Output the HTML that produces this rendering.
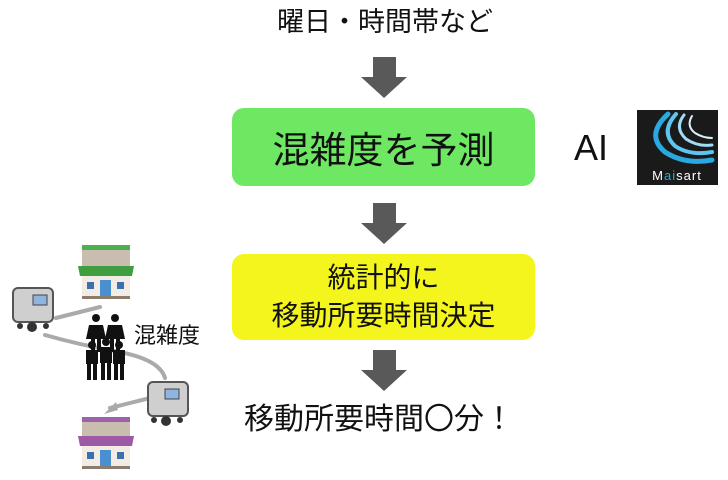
<!DOCTYPE html>
<html><head><meta charset="utf-8"><style>
body{margin:0;width:728px;height:480px;background:#fff;position:relative;overflow:hidden;font-family:"Liberation Sans","Noto Sans CJK JP",sans-serif;color:#111}
.t{position:absolute;white-space:nowrap;text-align:center}
.box{position:absolute;left:232px;width:303px;border-radius:12px;display:flex;align-items:center;justify-content:center;text-align:center}
</style></head><body>
<div class="t" style="left:235px;width:300px;top:4px;font-size:27px;line-height:36px">曜日・時間帯など</div>
<svg width="728" height="480" style="position:absolute;left:0;top:0">
<g fill="#595959">
<polygon points="373,57 396,57 396,77 407,77 384,98 361,77 373,77"/>
<polygon points="373,203 396,203 396,223 407,223 384,244 361,223 373,223"/>
<polygon points="373,350 396,350 396,370 407,370 384,391 361,370 373,370"/>
</g>
<rect x="637" y="110" width="81" height="75" fill="#1a1a1a"/>
<g fill="none" stroke-linecap="round">
<path d="M668 114 Q645 135 665 152 Q685 165 712 160" stroke="#29a9e0" stroke-width="5"/>
<path d="M676 114 Q660 132 675 146 Q690 156 712 152" stroke="#5cc6f0" stroke-width="4"/>
<path d="M684 115 Q674 128 686 139 Q698 147 712 145" stroke="#9fdcf5" stroke-width="3"/>
<path d="M692 116 Q686 126 695 133 Q703 138 712 138" stroke="#d8f1fb" stroke-width="2"/>
</g>
<text x="677" y="180" fill="#fff" font-size="13" text-anchor="middle" font-family="Liberation Sans" letter-spacing="1">M<tspan fill="#29a9e0">ai</tspan>sart</text>
<g fill="none" stroke="#aaa" stroke-width="4" stroke-linecap="round">
<path d="M56 318 L100 307"/>
<path d="M45 335 Q80 345 120 352 Q160 360 165 378"/>
<path d="M150 398 L110 408"/>
</g>
<polygon points="104,414 116,402 118,410" fill="#aaa"/>
<g>
<rect x="82" y="245" width="48" height="5" fill="#4caf50"/>
<rect x="82" y="250" width="48" height="16" fill="#c9bdb0"/>
<path d="M78 266 h56 l-2 10 h-52z" fill="#3f9e3f"/>
<rect x="82" y="276" width="48" height="22" fill="#f3ece4"/>
<rect x="100" y="280" width="11" height="18" fill="#4a90d0"/>
<rect x="87" y="282" width="7" height="7" fill="#3a6fb0"/><rect x="117" y="282" width="7" height="7" fill="#3a6fb0"/>
<rect x="82" y="296" width="48" height="3" fill="#8a7b6d"/>
</g>
<g>
<rect x="82" y="417" width="48" height="5" fill="#a060b0"/>
<rect x="82" y="422" width="48" height="14" fill="#c9bdb0"/>
<path d="M78 436 h56 l-2 10 h-52z" fill="#9b5aa3"/>
<rect x="82" y="446" width="48" height="22" fill="#f3ece4"/>
<rect x="100" y="450" width="11" height="18" fill="#4a90d0"/>
<rect x="87" y="452" width="7" height="7" fill="#3a6fb0"/><rect x="117" y="452" width="7" height="7" fill="#3a6fb0"/>
<rect x="82" y="466" width="48" height="3" fill="#8a7b6d"/>
</g>
<g>
<rect x="13" y="288" width="40" height="34" rx="5" fill="#cfcfcf" stroke="#555" stroke-width="2"/>
<rect x="33" y="295" width="14" height="10" fill="#8fb4e0" stroke="#444"/>
<circle cx="32" cy="327" r="5" fill="#333"/><circle cx="20" cy="326" r="3" fill="#333"/><circle cx="46" cy="326" r="3" fill="#333"/>
</g>
<g>
<rect x="148" y="382" width="40" height="34" rx="5" fill="#cfcfcf" stroke="#555" stroke-width="2"/>
<rect x="165" y="389" width="14" height="10" fill="#8fb4e0" stroke="#444"/>
<circle cx="166" cy="421" r="5" fill="#333"/><circle cx="154" cy="420" r="3" fill="#333"/><circle cx="180" cy="420" r="3" fill="#333"/>
</g>
<g fill="#111">
<circle cx="96" cy="318" r="4"/><path d="M89 325 h14 l3 14 h-20z"/><rect x="91" y="338" width="4" height="14"/><rect x="97" y="338" width="4" height="14"/>
<circle cx="115" cy="318" r="4"/><path d="M108 325 h14 l3 14 h-20z"/><rect x="110" y="338" width="4" height="14"/><rect x="116" y="338" width="4" height="14"/>
<circle cx="92" cy="345" r="4"/><rect x="86" y="350" width="12" height="14"/><rect x="87" y="363" width="4" height="17"/><rect x="93" y="363" width="4" height="17"/>
<circle cx="106" cy="342" r="4"/><rect x="100" y="347" width="12" height="16"/><rect x="101" y="362" width="4" height="18"/><rect x="107" y="362" width="4" height="18"/>
<circle cx="119" cy="345" r="4"/><rect x="113" y="350" width="12" height="14"/><rect x="114" y="363" width="4" height="17"/><rect x="120" y="363" width="4" height="17"/>
</g>
</svg>
<div class="t" style="left:134px;top:322px;font-size:22px;line-height:28px">混雑度</div>
<div class="box" style="top:108px;height:78px;background:#6ee863;font-size:37px">混雑度を予測</div>
<div class="t" style="left:574px;top:128px;font-size:36px;line-height:40px">AI</div>
<div class="box" style="top:254px;height:86px;background:#f5f51e;font-size:28px;line-height:38px">統計的に<br>移動所要時間決定</div>
<div class="t" style="left:229px;width:300px;top:401px;font-size:30px;line-height:38px">移動所要時間〇分！</div>
</body></html>
